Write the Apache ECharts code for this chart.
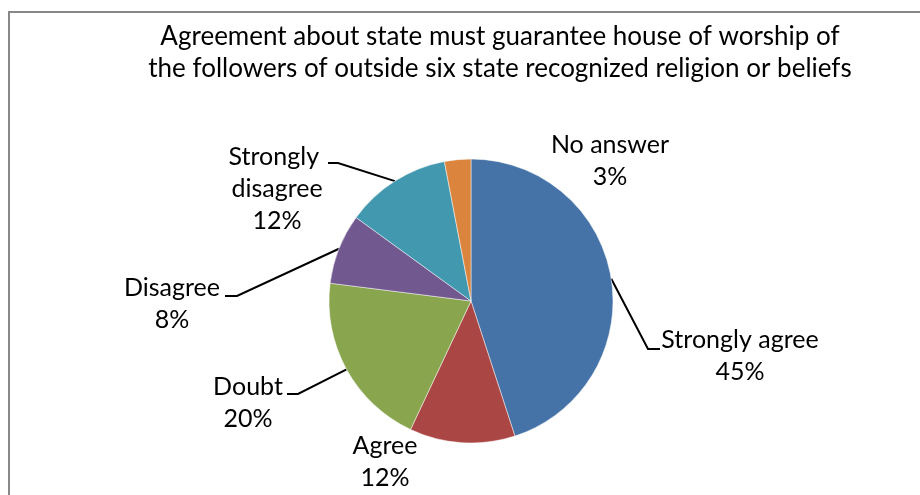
<!DOCTYPE html>
<html>
<head>
<meta charset="utf-8">
<script src="https://cdn.jsdelivr.net/npm/echarts@6/dist/echarts.min.js"></script>
<style>
  html, body { margin: 0; padding: 0; background: #fff; }
  #chart { width: 920px; height: 495px; }
</style>
</head>
<body>
<div id="chart"></div>
<script>
// Survey answers (percent of respondents)
const categories = ['Strongly agree', 'Agree', 'Doubt', 'Disagree', 'Strongly disagree', 'No answer'];
const shares = [45, 12, 20, 8, 12, 3];
const sliceColors = ['#4572A7', '#AA4643', '#89A54E', '#71588F', '#4198AF', '#DB843D'];
const titleLines = [
  'Agreement about state must guarantee house of worship of',
  'the followers of outside six state recognized religion or beliefs'
];

const FONT = 'Lato, "Open Sans", sans-serif';

// Where each label block sits (centre) and how its leader line bends.
const labelPlacement = {
  'Strongly agree':    { x: 740, y: 356, elbow: [648, 349], end: [660, 349] },
  'Agree':             { x: 385, y: 462 },
  'Doubt':             { x: 248, y: 403, elbow: [298, 394], end: [287, 394] },
  'Disagree':          { x: 172, y: 304, elbow: [237, 296], end: [225, 296] },
  'Strongly disagree': { x: 277, y: 189, elbow: [338, 163], end: [328, 163] },
  'No answer':         { x: 610, y: 161 }
};

const chart = echarts.init(document.getElementById('chart'), null, { renderer: 'canvas' });

const data = categories.map((name, i) => {
  const p = labelPlacement[name];
  const item = {
    name: name,
    value: shares[i],
    itemStyle: { color: sliceColors[i] },
    labelLine: { show: !!p.elbow }
  };
  if (name === 'Strongly disagree') {
    item.label = { width: 125, overflow: 'break' };
  }
  return item;
});

chart.setOption({
  animation: false,
  backgroundColor: '#fff',
  title: {
    text: titleLines.join('\n'),
    left: 495,
    top: 16,
    textAlign: 'center',
    textStyle: {
      fontFamily: FONT,
      fontSize: 26,
      fontWeight: 'normal',
      color: '#000',
      lineHeight: 32
    }
  },
  graphic: [{
    type: 'rect',
    shape: { x: 9, y: 12, width: 940, height: 520 },
    style: { fill: null, stroke: '#888888', lineWidth: 2 },
    silent: true,
    z: -1
  }],
  series: [{
    type: 'pie',
    center: [471, 301],
    radius: 142,
    startAngle: 90,
    clockwise: true,
    data: data,
    itemStyle: { borderColor: 'rgba(255,255,255,0.8)', borderWidth: 0.6 },
    label: {
      show: true,
      position: 'outside',
      formatter: '{b}\n{c}%',
      fontFamily: FONT,
      fontSize: 25,
      lineHeight: 32,
      color: '#000',
      align: 'center'
    },
    labelLine: {
      show: true,
      lineStyle: { color: '#000', width: 2 }
    },
    labelLayout: function (params) {
      const name = categories[params.dataIndex];
      const p = labelPlacement[name];
      const out = { x: p.x, y: p.y, align: 'center', verticalAlign: 'middle', hideOverlap: false };
      if (p.elbow && params.labelLinePoints) {
        out.labelLinePoints = [params.labelLinePoints[0], p.elbow, p.end];
      }
      return out;
    }
  }]
});
</script>
</body>
</html>
